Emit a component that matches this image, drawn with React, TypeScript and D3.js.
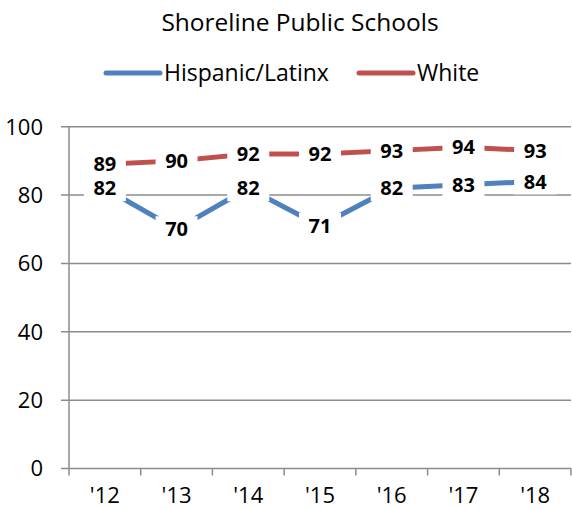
import React from "react";
import * as d3 from "d3";

const categories = ["'12", "'13", "'14", "'15", "'16", "'17", "'18"];
const hispanic = [82, 70, 82, 71, 82, 83, 84];
const white = [89, 90, 92, 92, 93, 94, 93];
const yTicks = [0, 20, 40, 60, 80, 100];
const seriesNames = ["Hispanic/Latinx", "White"];

const W = 572, H = 509;
const left = 69, right = 571, top = 126.7, bottom = 468.5;
const FONT = "'Open Sans', sans-serif";
const colors = ["#4F81BD", "#C0504D"];
const grid = "#8c8c8c";

export default function App() {
  const x = d3.scaleBand<string>().domain(categories).range([left, right]);
  const y = d3.scaleLinear().domain([0, 100]).range([bottom, top]);
  const cx = (c: string) => (x(c) as number) + x.bandwidth() / 2;
  const line = d3
    .line<number>()
    .x((_, i) => cx(categories[i]))
    .y((d) => y(d));
  const series = [hispanic, white];
  const bw = 21, bh = 13;

  return (
    <svg width={W} height={H} style={{ position: "absolute", left: 0, top: 0, background: "#fff" }}>
      <text x={300} y={31} textAnchor="middle" fontFamily={FONT} fontSize={24.5} fill="#000">
        Shoreline Public Schools
      </text>
      {/* legend */}
      <line x1={106} x2={160} y1={73} y2={73} stroke={colors[0]} strokeWidth={5} strokeLinecap="round" />
      <text x={164} y={81} fontFamily={FONT} fontSize={23} fill="#000">{seriesNames[0]}</text>
      <line x1={359} x2={413} y1={73} y2={73} stroke={colors[1]} strokeWidth={5} strokeLinecap="round" />
      <text x={417} y={81} fontFamily={FONT} fontSize={23} fill="#000">{seriesNames[1]}</text>

      {/* gridlines & y ticks */}
      {yTicks.map((t) => (
        <g key={t}>
          <line x1={61} x2={right} y1={y(t)} y2={y(t)} stroke={grid} strokeWidth={1.5} />
          <text x={43} y={y(t)} dy="0.36em" textAnchor="end" fontFamily={FONT} fontSize={22} fill="#000">
            {t}
          </text>
        </g>
      ))}
      {/* y axis */}
      <line x1={left} x2={left} y1={top} y2={bottom + 0.5} stroke={grid} strokeWidth={1.5} />
      {/* x ticks */}
      {categories.map((c, i) => (
        <line key={"t" + i} x1={x(c)} x2={x(c)} y1={bottom} y2={bottom + 7} stroke={grid} strokeWidth={1.5} />
      ))}
      <line x1={right} x2={right} y1={bottom} y2={bottom + 7} stroke={grid} strokeWidth={1.5} />
      {categories.map((c) => (
        <text key={c} x={cx(c)} y={503} textAnchor="middle" fontFamily={FONT} fontSize={22} fill="#000">
          {c}
        </text>
      ))}

      {/* lines */}
      {series.map((s, k) => (
        <path key={k} d={line(s) as string} fill="none" stroke={colors[k]} strokeWidth={5} />
      ))}
      {/* label boxes */}
      {series.map((s, k) =>
        s.map((v, i) => (
          <rect
            key={k + "-" + i}
            x={cx(categories[i]) - bw}
            y={y(v) - bh}
            width={bw * 2}
            height={bh * 2}
            fill="#fff"
          />
        ))
      )}
      {series.map((s, k) =>
        s.map((v, i) => (
          <text
            key={"l" + k + "-" + i}
            x={cx(categories[i])}
            y={y(v)}
            dy="0.36em"
            textAnchor="middle"
            fontFamily={FONT}
            fontWeight="bold"
            fontSize={20}
            fill="#000"
          >
            {v}
          </text>
        ))
      )}
    </svg>
  );
}
